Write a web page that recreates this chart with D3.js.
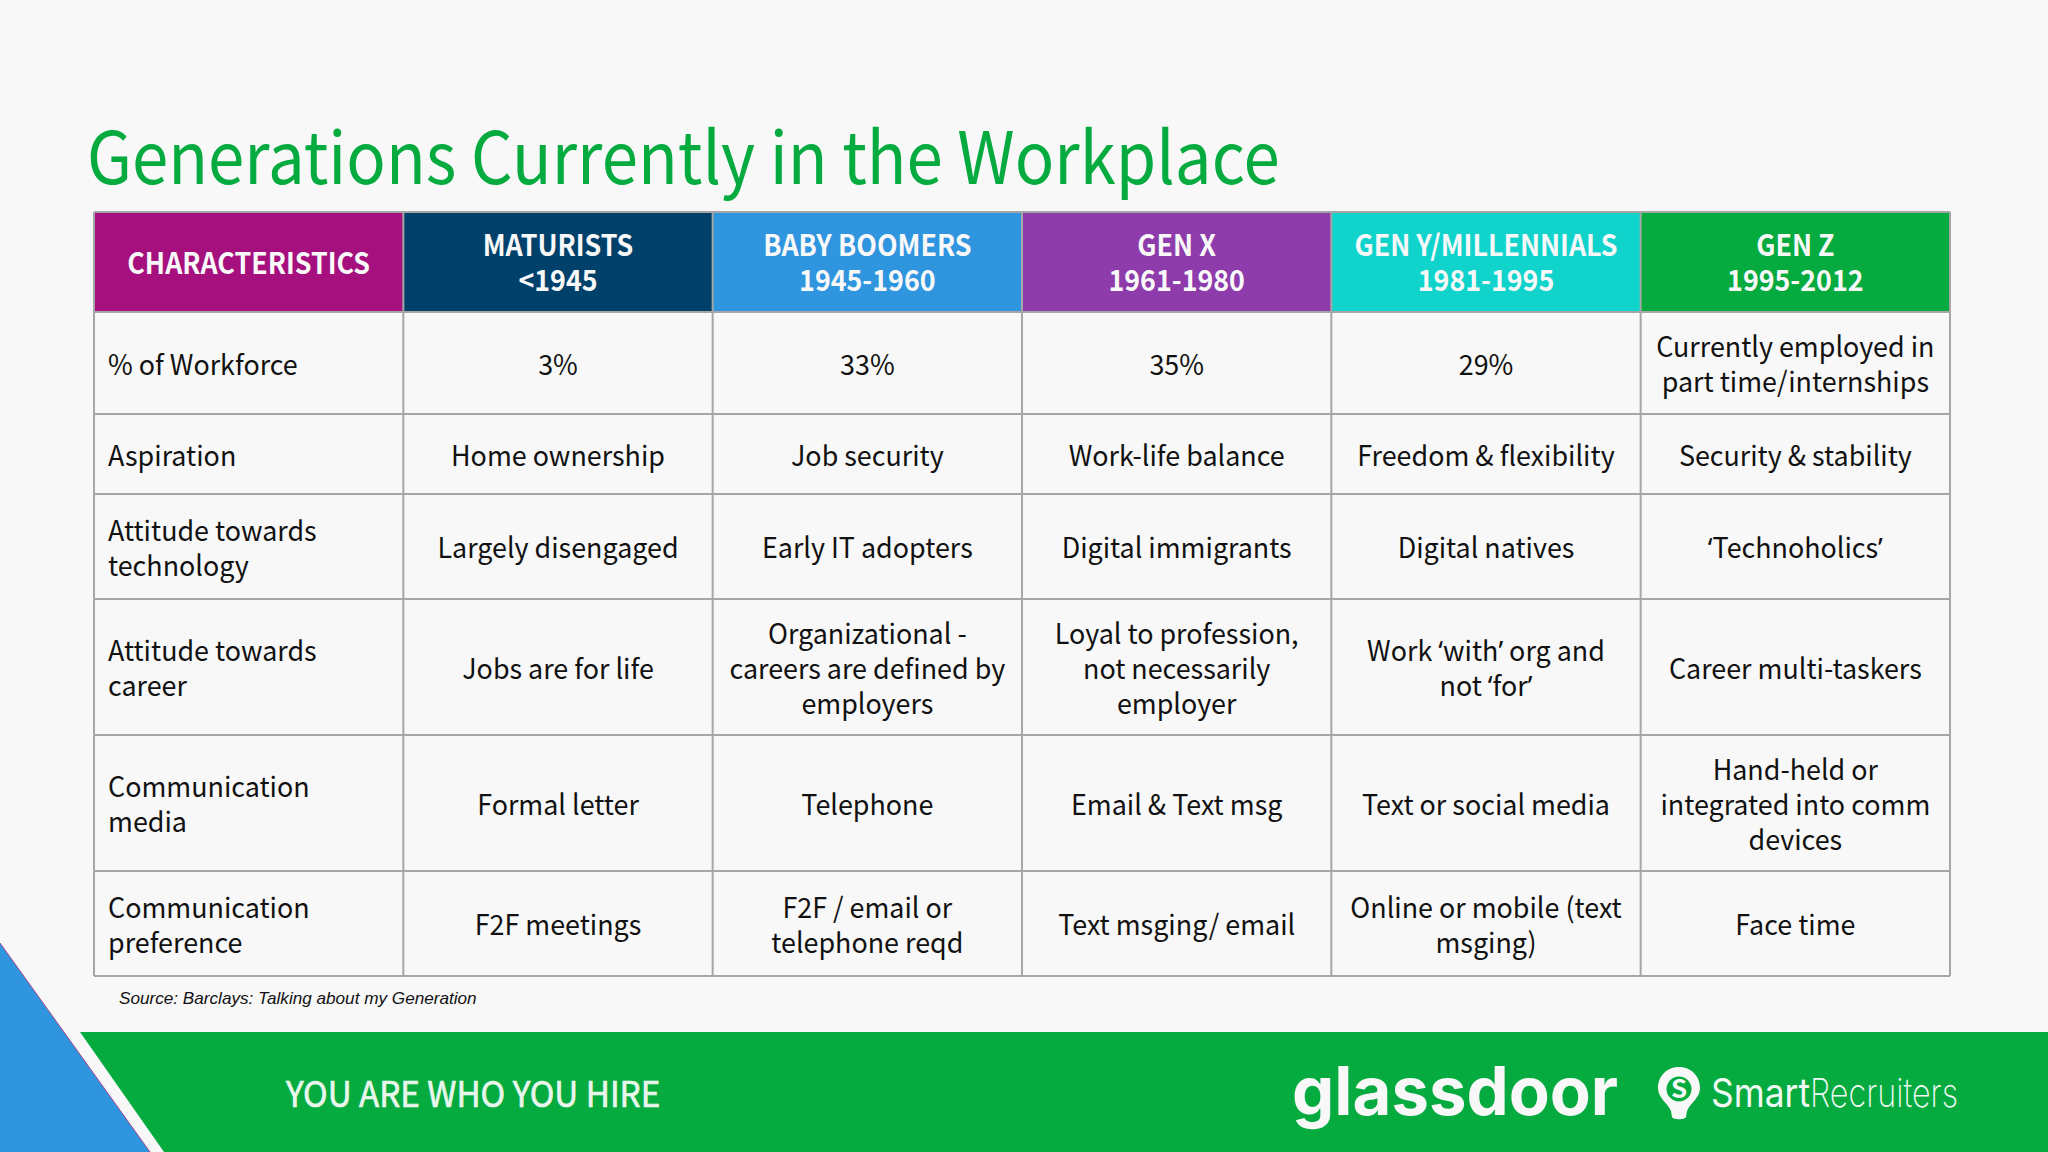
<!DOCTYPE html>
<html>
<head>
<meta charset="utf-8">
<script src="https://cdnjs.cloudflare.com/ajax/libs/d3/7.8.5/d3.min.js"></script>
<style>
html, body { margin: 0; padding: 0; background: #f8f8f9; overflow: hidden; }
svg { display: block; }
text { font-family: "Noto Sans CJK SC", "Noto Sans", sans-serif; }
</style>
</head>
<body>
<script>
var titleText = "Generations Currently in the Workplace";
var sourceText = "Source: Barclays: Talking about my Generation";
var taglineText = "YOU ARE WHO YOU HIRE";

var headers = [
    ["CHARACTERISTICS"],
    ["MATURISTS", "<1945"],
    ["BABY BOOMERS", "1945-1960"],
    ["GEN X", "1961-1980"],
    ["GEN Y/MILLENNIALS", "1981-1995"],
    ["GEN Z", "1995-2012"]
];
var headerColors = ["#a50f7e", "#00416c", "#3095df", "#8e3bab", "#10d3cc", "#05ab3f"];

var rowLabels = [
    ["% of Workforce"],
    ["Aspiration"],
    ["Attitude towards", "technology"],
    ["Attitude towards", "career"],
    ["Communication", "media"],
    ["Communication", "preference"]
];
var maturists = [["3%"], ["Home ownership"], ["Largely disengaged"], ["Jobs are for life"], ["Formal letter"], ["F2F meetings"]];
var boomers = [["33%"], ["Job security"], ["Early IT adopters"], ["Organizational -", "careers are defined by", "employers"], ["Telephone"], ["F2F / email or", "telephone reqd"]];
var genX = [["35%"], ["Work-life balance"], ["Digital immigrants"], ["Loyal to profession,", "not necessarily", "employer"], ["Email & Text msg"], ["Text msging/ email"]];
var genY = [["29%"], ["Freedom & flexibility"], ["Digital natives"], ["Work \u2018with\u2019 org and", "not \u2018for\u2019"], ["Text or social media"], ["Online or mobile (text", "msging)"]];
var genZ = [["Currently employed in", "part time/internships"], ["Security & stability"], ["\u2018Technoholics\u2019"], ["Career multi-taskers"], ["Hand-held or", "integrated into comm", "devices"], ["Face time"]];
var columns = [rowLabels, maturists, boomers, genX, genY, genZ];

// layout
var W = 2048, H = 1152;
var tableLeft = 94, tableRight = 1950;
var rowHeights = [100, 102, 80, 105, 136, 136, 105];
var tableTop = 212;
var lineGap = 35;
var gridColor = "#a6a6a6";
var green = "#05ab3f";

var rowEdges = [tableTop].concat(Array.from(d3.cumsum(rowHeights), function(d) { return tableTop + d; }));

var x = d3.scaleBand().domain(d3.range(columns.length)).range([tableLeft, tableRight]);

var svg = d3.select("body").append("svg").attr("width", W).attr("height", H);
svg.append("rect").attr("width", W).attr("height", H).attr("fill", "#f8f8f9");

// the slide is squeezed sideways a bit, so text gets an x scale
function squeezed(px, py, sx) {
    return "translate(" + px + "," + py + ") scale(" + sx + ",1)";
}

svg.append("text").attr("transform", squeezed(87, 184, 0.908))
    .attr("font-size", 72).attr("fill", green).text(titleText);

// header cells
svg.selectAll("rect.head").data(headers).enter().append("rect")
    .attr("class", "head")
    .attr("x", function(d, i) { return x(i); })
    .attr("y", rowEdges[0])
    .attr("width", x.bandwidth())
    .attr("height", rowHeights[0])
    .attr("fill", function(d, i) { return headerColors[i]; });

// grid
svg.selectAll("line.h").data(rowEdges).enter().append("line")
    .attr("x1", tableLeft).attr("x2", tableRight)
    .attr("y1", function(d) { return d; }).attr("y2", function(d) { return d; })
    .attr("stroke", gridColor).attr("stroke-width", 2);
svg.selectAll("line.v").data(d3.range(columns.length + 1)).enter().append("line")
    .attr("x1", function(d) { return tableLeft + d * x.bandwidth(); })
    .attr("x2", function(d) { return tableLeft + d * x.bandwidth(); })
    .attr("y1", tableTop).attr("y2", rowEdges[rowEdges.length - 1])
    .attr("stroke", gridColor).attr("stroke-width", 2);

function drawLines(lines, px, cy, anchor, size, weight, color, sx) {
    lines.forEach(function(s, k) {
        var py = cy + (k - (lines.length - 1) / 2) * lineGap + size * 0.35 + 1.7;
        var t = svg.append("text").attr("text-anchor", anchor)
            .attr("transform", squeezed(px, py, sx))
            .attr("font-size", size).attr("font-weight", weight).attr("fill", color);
        // curly quotes are full width in the CJK font
        s.split(/([\u2018\u2019])/).forEach(function(part) {
            var span = t.append("tspan").text(part);
            if (part == "\u2018" || part == "\u2019") span.style("font-family", "Noto Sans");
        });
    });
}

headers.forEach(function(lines, c) {
    drawLines(lines, x(c) + x.bandwidth() / 2, rowEdges[0] + rowHeights[0] / 2, "middle", 29, 700, "#f8f8f9", 0.925);
});

columns.forEach(function(col, c) {
    col.forEach(function(lines, r) {
        var cy = rowEdges[r + 1] + rowHeights[r + 1] / 2;
        if (c == 0) drawLines(lines, x(0) + 14, cy, "start", 28, 400, "#111", 0.96);
        else drawLines(lines, x(c) + x.bandwidth() / 2, cy, "middle", 28, 400, "#111", 0.96);
    });
});

svg.append("text").attr("x", 119).attr("y", 1003.5)
    .style("font-family", "Liberation Sans").style("font-style", "italic")
    .attr("font-size", 17.15).attr("fill", "#111").text(sourceText);

// bottom band and corner
svg.append("path").attr("d", "M80,1032L" + W + ",1032L" + W + "," + H + "L164," + H + "Z").attr("fill", green);
svg.append("path").attr("d", "M0,943L150," + H + "L0," + H + "Z").attr("fill", "#3095df");
svg.append("line").attr("x1", 0).attr("y1", 943).attr("x2", 150).attr("y2", H)
    .attr("stroke", "#a5468e").attr("stroke-width", 1);

svg.append("text").attr("transform", squeezed(286, 1107, 0.922))
    .attr("font-size", 36).attr("fill", "#e8f6ec")
    .attr("stroke", "#e8f6ec").attr("stroke-width", 0.7).text(taglineText);

svg.append("text").attr("x", 1292).attr("y", 1115)
    .style("font-family", "Inter").attr("font-size", 67).attr("font-weight", 700)
    .attr("fill", "#f8f8f9").text("glassdoor");

// SmartRecruiters bulb
var bulb = svg.append("g").attr("transform", "translate(1679,1067)");
bulb.append("path").attr("fill", "#f8f8f9")
    .attr("d", "M0,0C13,0 21,10 21,21C21,31 12,35 8,44L7,50C6,53 -6,53 -7,50L-8,44C-12,35 -21,31 -21,21C-21,10 -13,0 0,0Z");
bulb.append("circle").attr("cx", 0).attr("cy", 22).attr("r", 12.5).attr("fill", green);
bulb.append("text").attr("x", 0).attr("y", 31).attr("text-anchor", "middle")
    .attr("font-size", 26).attr("font-weight", 700).attr("fill", "#f8f8f9").text("S");

svg.append("text").attr("x", 1711).attr("y", 1107)
    .style("font-family", "Inter").attr("font-size", 40).attr("font-weight", 400)
    .attr("textLength", 99).attr("lengthAdjust", "spacingAndGlyphs")
    .attr("fill", "#f0f9f3").text("Smart");
svg.append("text").attr("x", 1810).attr("y", 1107)
    .style("font-family", "Inter").attr("font-size", 40).attr("font-weight", 200)
    .attr("textLength", 148).attr("lengthAdjust", "spacingAndGlyphs")
    .attr("fill", "#f0f9f3").text("Recruiters");
</script>
</body>
</html>
